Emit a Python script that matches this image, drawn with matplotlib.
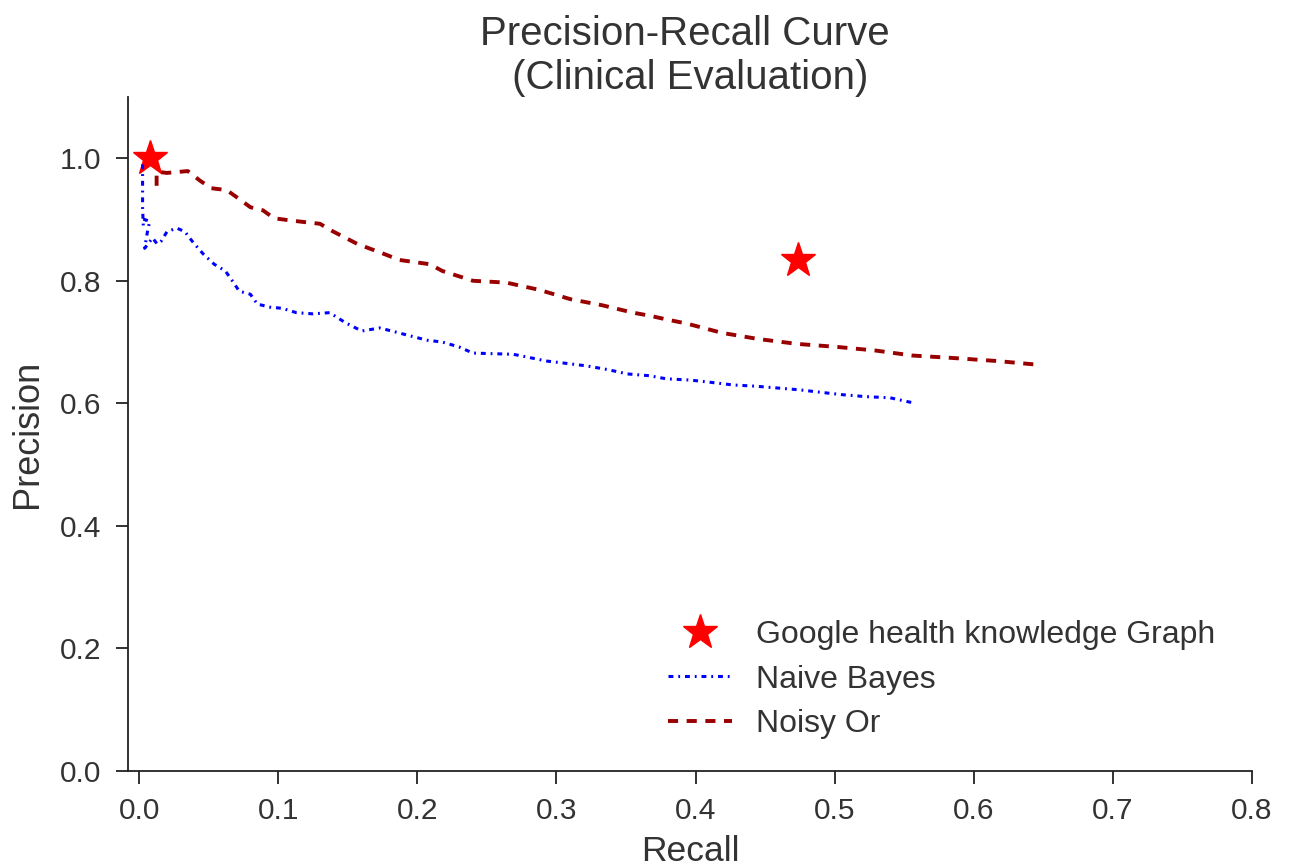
import matplotlib
matplotlib.use("Agg")
import matplotlib.pyplot as plt

# Google health knowledge graph (single operating points)
google_recall = [0.0076, 0.474]
google_precision = [1.0, 0.834]

# Naive Bayes PR curve
nb_recall = [0.0025, 0.0025, 0.0025, 0.003, 0.004, 0.0076, 0.006, 0.004, 0.0097,
             0.013, 0.016, 0.020, 0.027, 0.033, 0.038, 0.046, 0.054, 0.062,
             0.067, 0.072, 0.080, 0.085, 0.094, 0.103, 0.113, 0.125, 0.137,
             0.148, 0.160, 0.173, 0.185, 0.195, 0.207, 0.218, 0.230, 0.240,
             0.255, 0.269, 0.280, 0.293, 0.308, 0.322, 0.337, 0.351, 0.367,
             0.379, 0.396, 0.412, 0.427, 0.443, 0.459, 0.475, 0.490, 0.506,
             0.522, 0.540, 0.556]
nb_precision = [0.99, 0.95, 0.92, 0.89, 0.90, 0.897, 0.88, 0.853, 0.87,
                0.86, 0.865, 0.88, 0.886, 0.88, 0.865, 0.844, 0.827, 0.816,
                0.80, 0.783, 0.778, 0.762, 0.757, 0.755, 0.748, 0.746, 0.748,
                0.732, 0.718, 0.723, 0.716, 0.71, 0.703, 0.70, 0.692, 0.682,
                0.681, 0.68, 0.675, 0.669, 0.665, 0.661, 0.655, 0.648, 0.645,
                0.64, 0.638, 0.634, 0.63, 0.628, 0.625, 0.622, 0.618, 0.614,
                0.611, 0.609, 0.601]

# Noisy Or PR curve
no_recall = [0.0126, 0.0126, 0.020, 0.035, 0.044, 0.052, 0.063, 0.071, 0.080,
             0.089, 0.097, 0.107, 0.118, 0.130, 0.139, 0.157, 0.177, 0.187,
             0.209, 0.218, 0.240, 0.264, 0.288, 0.310, 0.333, 0.355, 0.367,
             0.379, 0.394, 0.419, 0.445, 0.473, 0.502, 0.530, 0.556, 0.585,
             0.617, 0.646]
no_precision = [0.955, 0.978, 0.976, 0.979, 0.963, 0.951, 0.948, 0.935, 0.92,
                0.915, 0.902, 0.899, 0.896, 0.893, 0.881, 0.86, 0.843, 0.834,
                0.827, 0.816, 0.80, 0.797, 0.785, 0.77, 0.76, 0.748, 0.743,
                0.737, 0.73, 0.715, 0.705, 0.697, 0.692, 0.686, 0.678, 0.674,
                0.669, 0.663]

plt.rcParams["font.family"] = ["Liberation Sans", "DejaVu Sans"]
text_color = "#333333"

fig = plt.figure(figsize=(12.9, 8.67), dpi=100)
ax = fig.add_axes([0.0992, 0.1107, 0.8713, 0.7775])

ax.plot(google_recall, google_precision, linestyle="none", marker="*",
        markersize=26, color="red", label="Google health knowledge Graph")
ax.plot(nb_recall, nb_precision, color="blue", linestyle=(0, (1.6, 1.6, 0.6, 1.6)),
        linewidth=2.2, label="Naive Bayes")
ax.plot(no_recall, no_precision, color="#990000", linestyle=(0, (2.6, 2.2)),
        linewidth=2.8, label="Noisy Or")

ax.set_xlim(-0.008, 0.8)
ax.set_ylim(0.0, 1.1)
ax.set_xticks([0.0, 0.1, 0.2, 0.3, 0.4, 0.5, 0.6, 0.7, 0.8])
ax.set_yticks([0.0, 0.2, 0.4, 0.6, 0.8, 1.0])

for side in ("top", "right"):
    ax.spines[side].set_visible(False)
for side in ("left", "bottom"):
    ax.spines[side].set_color("#222222")
    ax.spines[side].set_linewidth(1.3)
ax.tick_params(direction="out", length=9, width=1.3, color="#222222",
               labelsize=21.5, labelcolor=text_color, pad=10)

ax.set_xlabel("Recall", fontsize=25.5, color=text_color, labelpad=7)
ax.set_ylabel("Precision", fontsize=26, color=text_color, labelpad=11)
ax.set_title("Precision-Recall Curve\n (Clinical Evaluation)", fontsize=29,
             color=text_color, pad=6, x=0.495)

ax.legend(loc="lower left", bbox_to_anchor=(0.455, 0.005), frameon=False,
          fontsize=23, numpoints=1, handlelength=2.0, labelspacing=0.45,
          handletextpad=0.75, labelcolor=text_color)

fig.savefig("out.png", dpi=100)
